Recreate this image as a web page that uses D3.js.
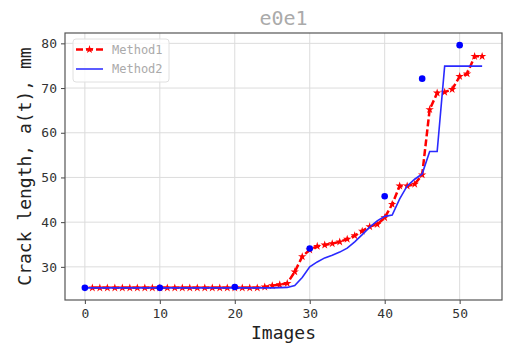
<!DOCTYPE html>
<html>
<head>
<meta charset="utf-8">
<script src="https://cdn.jsdelivr.net/npm/d3@7"></script>
<style>
  body { margin: 0; background: #fff; }
  svg { display: block; font-family: "DejaVu Sans Mono", monospace; }
</style>
</head>
<body>
<div id="chart"></div>
<script>
// Method1 : one value per image, images 1..53
const method1Images = d3.range(1, 54)
const method1 = [
  25.3, 25.3, 25.3, 25.3, 25.3, 25.3, 25.3, 25.3, 25.3, 25.3,   // 1-10
  25.3, 25.3, 25.3, 25.3, 25.3, 25.3, 25.3, 25.3, 25.3, 25.3,   // 11-20
  25.3, 25.3, 25.3, 25.5, 25.8, 26.0, 26.3, 28.9, 32.3, 33.8,   // 21-30
  34.6, 34.9, 35.2, 35.6, 36.2, 37.0, 38.0, 39.0, 39.5, 41.0,   // 31-40
  44.0, 48.1, 48.1, 48.5, 50.6, 65.2, 68.9, 69.1, 69.7, 72.6,   // 41-50
  73.2, 77.1, 77.1                                              // 51-53
]

// Method2 : images 0..53
const method2Images = d3.range(0, 54)
const method2 = [
  25.3, 25.3, 25.3, 25.3, 25.3, 25.3, 25.3, 25.3, 25.3, 25.3,   // 0-9
  25.3, 25.3, 25.3, 25.3, 25.3, 25.3, 25.3, 25.3, 25.3, 25.3,   // 10-19
  25.3, 25.3, 25.3, 25.3, 25.3, 25.3, 25.35, 25.4, 25.8, 27.6,  // 20-29
  30.0, 31.1, 32.0, 32.6, 33.3, 34.2, 35.6, 37.2, 38.9, 40.3,   // 30-39
  41.3, 41.6, 45.2, 48.1, 49.6, 50.8, 55.8, 55.8, 74.9, 74.9,   // 40-49
  74.9, 74.9, 74.9, 74.9                                        // 50-53
]

// measured points (blue dots)
const refImages = [0, 10, 20, 30, 40, 45, 50]
const refValues = [25.3, 25.3, 25.5, 34.1, 45.8, 72.1, 79.6]

const xTicks = [0, 10, 20, 30, 40, 50]
const yTicks = [30, 40, 50, 60, 70, 80]
const seriesNames = ['Method1', 'Method2']

const W = 505, H = 347
const margin = {top: 33, right: 3, bottom: 47, left: 65}
const width = W - margin.left - margin.right
const height = H - margin.top - margin.bottom

const svg = d3.select('#chart').append('svg')
    .attr('width', W)
    .attr('height', H)

const g = svg.append('g')
    .attr('transform', `translate(${margin.left}, ${margin.top})`)

// matplotlib style 5% padding around the data
const xExt = [0, 53]
const xPad = (xExt[1] - xExt[0]) * 0.05
const x = d3.scaleLinear()
    .domain([xExt[0] - xPad, xExt[1] + xPad])
    .range([0, width])

const allY = method1.concat(method2, refValues)
const yExt = d3.extent(allY)
const yPad = (yExt[1] - yExt[0]) * 0.05
const y = d3.scaleLinear()
    .domain([yExt[0] - yPad, yExt[1] + yPad])
    .range([height, 0])

// grid
g.append('g').selectAll('line')
    .data(xTicks).join('line')
    .attr('x1', d => x(d)).attr('x2', d => x(d))
    .attr('y1', 0).attr('y2', height)
    .attr('stroke', '#dcdcdc')
g.append('g').selectAll('line')
    .data(yTicks).join('line')
    .attr('y1', d => y(d)).attr('y2', d => y(d))
    .attr('x1', 0).attr('x2', width)
    .attr('stroke', '#dcdcdc')

// axes
const xAxis = g.append('g')
    .attr('transform', `translate(0, ${height})`)
    .call(d3.axisBottom(x).tickValues(xTicks).tickSize(4).tickPadding(5))
const yAxis = g.append('g')
    .call(d3.axisLeft(y).tickValues(yTicks).tickSize(4).tickPadding(4))

;[xAxis, yAxis].forEach(a => {
    a.select('.domain').remove()
    a.selectAll('line').attr('stroke', '#444')
    a.selectAll('text')
        .attr('fill', '#333')
        .style('font-family', '"DejaVu Sans Mono", monospace')
        .style('font-size', '13px')
})

// frame
g.append('rect')
    .attr('width', width)
    .attr('height', height)
    .attr('fill', 'none')
    .attr('stroke', '#555')
    .attr('stroke-width', 1.2)

// Method1 - red dashed with stars
const line1 = d3.line()
    .x((d, i) => x(method1Images[i]))
    .y(d => y(d))
g.append('path')
    .datum(method1)
    .attr('d', line1)
    .attr('fill', 'none')
    .attr('stroke', '#ff0000')
    .attr('stroke-width', 2.5)
    .attr('stroke-dasharray', '7,3')

const star = d3.symbol().type(d3.symbolStar).size(22)
g.append('g').selectAll('path')
    .data(method1).join('path')
    .attr('d', star)
    .attr('transform', (d, i) => `translate(${x(method1Images[i])}, ${y(d)})`)
    .attr('fill', '#ff0000')

// Method2 - blue solid
const line2 = d3.line()
    .x((d, i) => x(method2Images[i]))
    .y(d => y(d))
g.append('path')
    .datum(method2)
    .attr('d', line2)
    .attr('fill', 'none')
    .attr('stroke', '#2a2aff')
    .attr('stroke-width', 1.6)

// reference points
g.append('g').selectAll('circle')
    .data(refValues).join('circle')
    .attr('cx', (d, i) => x(refImages[i]))
    .attr('cy', d => y(d))
    .attr('r', 3.3)
    .attr('fill', '#0000ff')

// legend
const legend = g.append('g').attr('transform', 'translate(8, 6)')
legend.append('rect')
    .attr('width', 96)
    .attr('height', 43)
    .attr('rx', 3)
    .attr('fill', 'rgba(255,255,255,0.8)')
    .attr('stroke', '#e0e0e0')

const l1 = legend.append('g').attr('transform', 'translate(3, 10.5)')
l1.append('line')
    .attr('x1', 0).attr('x2', 27)
    .attr('stroke', '#ff0000').attr('stroke-width', 2.5)
    .attr('stroke-dasharray', '7,3')
l1.append('path')
    .attr('d', star)
    .attr('transform', 'translate(13.5, 0)')
    .attr('fill', '#ff0000')

const l2 = legend.append('g').attr('transform', 'translate(3, 30)')
l2.append('line')
    .attr('x1', 0).attr('x2', 27)
    .attr('stroke', '#4a4aff').attr('stroke-width', 1.8)

legend.selectAll('text.lab')
    .data(seriesNames).join('text')
    .attr('class', 'lab')
    .attr('x', 39)
    .attr('y', (d, i) => 10.5 + i * 19.5)
    .attr('dy', '0.35em')
    .attr('fill', '#aaa')
    .style('font-size', '12px')
    .text(d => d)

// title and labels
svg.append('text')
    .attr('x', margin.left + width / 2)
    .attr('y', 25)
    .attr('text-anchor', 'middle')
    .attr('fill', '#aaa')
    .style('font-size', '20px')
    .text('e0e1')

svg.append('text')
    .attr('x', margin.left + width / 2)
    .attr('y', 339)
    .attr('text-anchor', 'middle')
    .attr('fill', '#222')
    .style('font-size', '18px')
    .text('Images')

svg.append('text')
    .attr('transform', `translate(31, ${margin.top + height / 2}) rotate(-90)`)
    .attr('text-anchor', 'middle')
    .attr('fill', '#222')
    .style('font-size', '18px')
    .text('Crack length, a(t), mm')
</script>
</body>
</html>
